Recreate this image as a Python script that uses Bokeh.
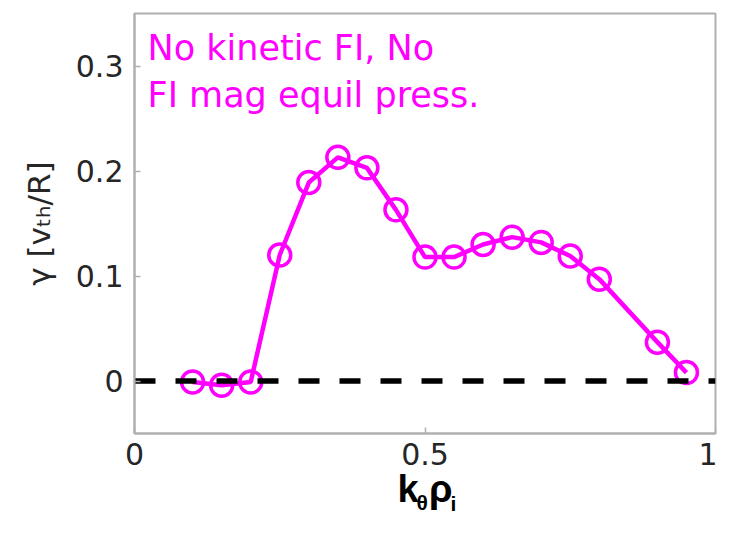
from bokeh.plotting import figure
from bokeh.models import Label, FixedTicker, Range1d
from bokeh.embed import file_html
from bokeh.resources import INLINE

# ---- data ----
k_theta_rho = [0.10, 0.15, 0.20, 0.25, 0.30, 0.35, 0.40, 0.45, 0.50,
               0.55, 0.60, 0.65, 0.70, 0.75, 0.80, 0.90, 0.95]
gamma = [-0.001, -0.004, -0.001, 0.120, 0.189, 0.213, 0.203, 0.163, 0.118,
         0.118, 0.130, 0.137, 0.132, 0.119, 0.097, 0.037, 0.008]
zero_x = [0.0, 1.0]
zero_y = [0.0, 0.0]
x_ticks = [0, 0.5, 1]
x_tick_labels = ["0", "0.5", "1"]
y_ticks = [0, 0.1, 0.2, 0.3]
y_tick_labels = ["0", "0.1", "0.2", "0.3"]
x_range = (0.0, 1.0)
y_range = (-0.05, 0.35)
annotation_lines = ["No kinetic FI, No", "FI mag equil press."]
y_label = "\u03b3 [v\u209c\u2095/R]"
x_label_main = "k \u03c1"
x_label_subs = ["\u03b8", "i"]

MAGENTA = "#ff00ff"
TICK_COLOR = "#262626"
FRAME_COLOR = "#b0b0b0"

W, H = 717, 520
FL, FT, FR, FB = 134, 13, 715, 433   # frame edges in canvas pixels
p = figure(width=W, height=H, output_backend="svg", toolbar_location=None,
           x_range=Range1d(*x_range), y_range=Range1d(*y_range),
           min_border_left=FL, min_border_right=W - FR, min_border_top=FT,
           min_border_bottom=H - FB)
p.grid.visible = False
p.outline_line_color = FRAME_COLOR
p.outline_line_width = 2
p.border_fill_color = "white"

for ax, ticks, labels in ((p.xaxis[0], x_ticks, x_tick_labels),
                          (p.yaxis[0], y_ticks, y_tick_labels)):
    ax.ticker = FixedTicker(ticks=ticks)
    ax.major_label_overrides = {t: l for t, l in zip(ticks, labels)}
    ax.major_label_text_font = "DejaVu Sans"
    ax.major_label_text_font_size = "30px"
    ax.major_label_text_color = TICK_COLOR
    ax.major_tick_in = 6
    ax.major_tick_out = 0
    ax.minor_tick_in = 0
    ax.minor_tick_out = 0
    ax.major_tick_line_color = FRAME_COLOR
    ax.major_tick_line_width = 1.5
    ax.axis_line_color = FRAME_COLOR
    ax.axis_line_width = 2

xa, ya = p.xaxis[0], p.yaxis[0]
xa.major_label_standoff = 9
ya.major_label_standoff = 11

ya.axis_label = y_label
ya.axis_label_text_font = "DejaVu Sans"
ya.axis_label_text_font_size = "31px"
ya.axis_label_text_font_style = "normal"
ya.axis_label_text_color = TICK_COLOR
ya.axis_label_standoff = 16

xa.axis_label = x_label_main
xa.axis_label_text_font = "Liberation Sans"
xa.axis_label_text_font_size = "38px"
xa.axis_label_text_font_style = "bold"
xa.axis_label_text_color = "black"
xa.axis_label_standoff = 0

p.line(k_theta_rho, gamma, line_color=MAGENTA, line_width=4.5)
p.scatter(k_theta_rho, gamma, marker="circle", size=22, line_color=MAGENTA,
          line_width=3.5, fill_alpha=0)
p.line(zero_x, zero_y, line_color="black", line_width=5.5, line_dash="21 20")


def to_data(px, py):
    xd = x_range[0] + (px - FL) / (FR - FL) * (x_range[1] - x_range[0])
    yd = y_range[0] + (FB - py) / (FB - FT) * (y_range[1] - y_range[0])
    return xd, yd


def make_label(text, px, baseline, size, font="DejaVu Sans", color=TICK_COLOR,
               style="normal"):
    # empirical correction: the rendered baseline sits ~0.34 em below the anchor
    xd, yd = to_data(px, baseline - 0.34 * size)
    return Label(x=xd, y=yd, text=text, text_font=font,
                 text_font_size=f"{size}px", text_color=color,
                 text_align="left", text_baseline="alphabetic",
                 text_font_style=style)


p.add_layout(make_label(annotation_lines[0], 147, 59, 35, color=MAGENTA))
p.add_layout(make_label(annotation_lines[1], 147, 106, 35, color=MAGENTA))

# subscripts of the x-axis label, in a side panel so they are not clipped
xl_font = dict(font="Liberation Sans", color="black", style="bold")
p.add_layout(make_label(x_label_subs[0], 416, 509, 21, **xl_font), "left")
p.add_layout(make_label(x_label_subs[1], 450, 510, 21, **xl_font), "left")

open("out.html", "w").write(file_html(p, INLINE))
